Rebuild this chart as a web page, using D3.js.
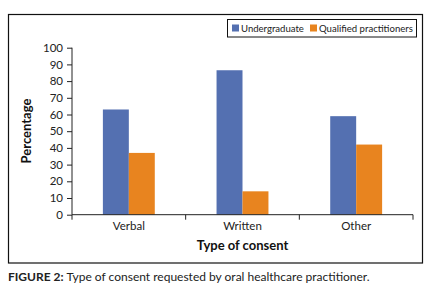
<!DOCTYPE html>
<html><head><meta charset="utf-8">
<script src="https://d3js.org/d3.v7.min.js"></script>
<style>body{margin:0;background:#fff}svg{display:block}</style>
</head><body>
<script>
const categories = ["Verbal", "Written", "Other"];
const seriesNames = ["Undergraduate", "Qualified practitioners"];
const undergraduate = [63, 86.5, 59];
const qualified = [37, 14, 42];
const yTicks = [0,10,20,30,40,50,60,70,80,90,100];

const W = 431, H = 292;
const font = "Lato, 'Open Sans', sans-serif";
const colors = ["#5470B1", "#E8841F"];
const svg = d3.select("body").append("svg").attr("width", W).attr("height", H);

svg.append("rect").attr("x", 8.5).attr("y", 14.5).attr("width", 414).attr("height", 248.5)
  .attr("fill", "none").attr("stroke", "#111").attr("stroke-width", 1.2);

const x0 = d3.scaleBand().domain(categories).range([72, 413]).paddingInner(0).paddingOuter(0);
const x1 = d3.scaleBand().domain(seriesNames).range([0, x0.bandwidth()]).paddingInner(0).paddingOuter(1.19);
const y = d3.scaleLinear().domain([0, 100]).range([214.7, 47.7]);

const data = categories.map((c, i) => ({cat: c, vals: [undergraduate[i], qualified[i]]}));
const g = svg.append("g");
g.selectAll("g.grp").data(data).join("g").attr("transform", d => `translate(${x0(d.cat)},0)`)
  .selectAll("rect").data(d => d.vals.map((v, j) => ({v, s: seriesNames[j], j})))
  .join("rect").attr("x", d => x1(d.s)).attr("width", x1.bandwidth())
  .attr("y", d => y(d.v)).attr("height", d => y(0) - y(d.v)).attr("fill", d => colors[d.j]);

const yAxis = svg.append("g").attr("transform", "translate(72,0)")
  .call(d3.axisLeft(y).tickValues(yTicks).tickSize(5).tickPadding(4));
yAxis.select(".domain").attr("d", `M0,${y(100)}V${y(0)}`);
yAxis.selectAll("text").attr("font-family", font).attr("font-size", 11.5).attr("fill", "#222");
yAxis.selectAll("line,path").attr("stroke", "#222");

const xAxis = svg.append("g").attr("transform", `translate(0,${y(0)})`)
  .call(d3.axisBottom(x0).tickSize(0).tickPadding(7));
xAxis.select(".domain").attr("d", "M72,0H413");
xAxis.selectAll("text").attr("font-family", font).attr("font-size", 11.5).attr("fill", "#222");
xAxis.selectAll("line,path").attr("stroke", "#222");
const bounds = [72].concat(categories.map(c => x0(c) + x0.bandwidth()));
xAxis.selectAll("line.bt").data(bounds).join("line").attr("class", "bt")
  .attr("x1", d => d).attr("x2", d => d).attr("y1", 0).attr("y2", 5).attr("stroke", "#222");

svg.append("text").attr("x", 242.5).attr("y", 250).attr("text-anchor", "middle")
  .attr("font-family", font).attr("font-size", 13).attr("font-weight", "bold").attr("fill", "#111")
  .text("Type of consent");
svg.append("text").attr("transform", "translate(31,131) rotate(-90)").attr("text-anchor", "middle")
  .attr("font-family", font).attr("font-size", 13).attr("font-weight", "bold").attr("fill", "#111")
  .text("Percentage");

// legend
svg.append("rect").attr("x", 227.5).attr("y", 19.5).attr("width", 189).attr("height", 17.5)
  .attr("fill", "#fff").attr("stroke", "#111").attr("stroke-width", 1);
const leg = [{x: 232, tx: 241, w: 63}, {x: 310, tx: 319, w: 94}];
seriesNames.forEach((s, i) => {
  svg.append("rect").attr("x", leg[i].x).attr("y", 24.5).attr("width", 7).attr("height", 7).attr("fill", colors[i]);
  const t = svg.append("text").attr("x", leg[i].tx).attr("y", 32).attr("font-family", font)
    .attr("font-size", 10).attr("fill", "#222").text(s);
  const len = t.node().getComputedTextLength();
  if (len > 0) t.attr("font-size", Math.min(10.5, 10 * leg[i].w / len));
});

const cap = svg.append("text").attr("x", 8).attr("y", 281).attr("font-family", font)
  .attr("font-size", 12).attr("fill", "#222");
cap.append("tspan").attr("font-weight", "bold").text("FIGURE 2: ");
cap.append("tspan").text("Type of consent requested by oral healthcare practitioner.");
</script>
</body></html>
